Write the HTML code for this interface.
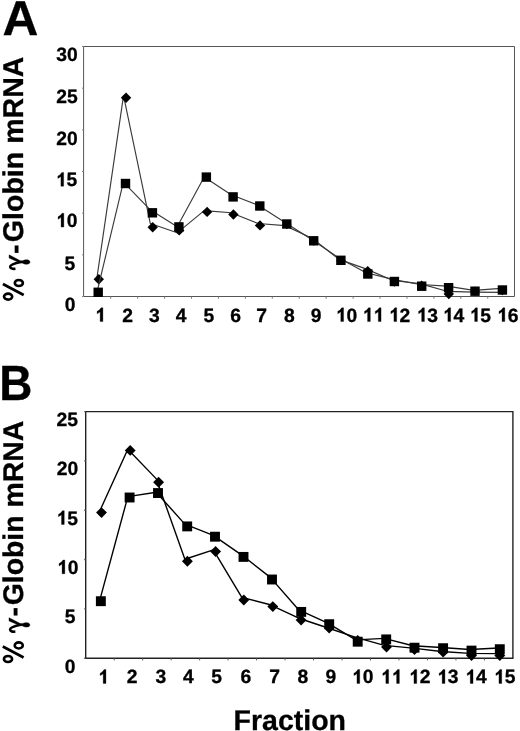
<!DOCTYPE html>
<html><head><meta charset="utf-8"><title>Globin mRNA fractions</title>
<style>
html,body{margin:0;padding:0;background:#fff;width:520px;height:731px;overflow:hidden}
svg{display:block;will-change:transform}
text{font-family:"Liberation Sans",sans-serif;font-weight:bold;fill:#000;stroke:#000;stroke-width:0.3px;text-rendering:geometricPrecision}
.g1{stroke:#000;stroke-width:0.3px}
</style></head><body>
<svg width="520" height="731" viewBox="0 0 520 731">
<rect width="520" height="731" fill="#fff"/>
<text transform="translate(2.6,35) scale(1.01,1)" font-size="49.2">A</text>
<g transform="translate(22.9,301) rotate(-90)">
<g fill="none" stroke="#000">
<ellipse cx="18" cy="-4.05" rx="3.05" ry="4.05" stroke-width="2.6"/>
<ellipse cx="4.4" cy="-14.8" rx="3" ry="4.1" stroke-width="2.6"/>
<path d="M16.9,-20L6,0.8" stroke-width="2.8"/>
</g>
<path stroke="#000" stroke-width="0.4" d="M42.91,-13.79L46.14,-13.79L40.28,-2.57L40.28,0C41.57,1.72 41.71,7.09 38.91,7.09C36.13,7.09 36.28,1.72 37.85,0L38.05,-2.57Z"/>
<path d="M32.21,-7.44C31.84,-10.87 32.84,-12.73 34.27,-12.73C35.99,-12.73 37.42,-9.15 38.99,-2.29" fill="none" stroke="#000" stroke-width="2.57"/>
<text x="47.13" y="0.6" font-size="28.6">-</text>
<text x="58.86" y="0" font-size="28.55">Globin mRNA</text>
</g>
<path d="M83.6,46.5H514.5V296.5H83.6Z" fill="none" stroke="#555" stroke-width="1"/>
<path d="M82.1,46.5H83.6" stroke="#777" stroke-width="1"/>
<path d="M82.1,88.17H83.6" stroke="#777" stroke-width="1"/>
<path d="M82.1,129.83H83.6" stroke="#777" stroke-width="1"/>
<path d="M82.1,171.5H83.6" stroke="#777" stroke-width="1"/>
<path d="M82.1,213.17H83.6" stroke="#777" stroke-width="1"/>
<path d="M82.1,254.83H83.6" stroke="#777" stroke-width="1"/>
<path d="M82.1,296.5H83.6" stroke="#777" stroke-width="1"/>
<path d="M110.73,296.5V298.7" stroke="#777" stroke-width="1"/>
<path d="M137.66,296.5V298.7" stroke="#777" stroke-width="1"/>
<path d="M164.59,296.5V298.7" stroke="#777" stroke-width="1"/>
<path d="M191.52,296.5V298.7" stroke="#777" stroke-width="1"/>
<path d="M218.45,296.5V298.7" stroke="#777" stroke-width="1"/>
<path d="M245.38,296.5V298.7" stroke="#777" stroke-width="1"/>
<path d="M272.31,296.5V298.7" stroke="#777" stroke-width="1"/>
<path d="M299.24,296.5V298.7" stroke="#777" stroke-width="1"/>
<path d="M326.17,296.5V298.7" stroke="#777" stroke-width="1"/>
<path d="M353.1,296.5V298.7" stroke="#777" stroke-width="1"/>
<path d="M380.03,296.5V298.7" stroke="#777" stroke-width="1"/>
<path d="M406.96,296.5V298.7" stroke="#777" stroke-width="1"/>
<path d="M433.89,296.5V298.7" stroke="#777" stroke-width="1"/>
<path d="M460.82,296.5V298.7" stroke="#777" stroke-width="1"/>
<path d="M487.75,296.5V298.7" stroke="#777" stroke-width="1"/>
<text x="56.23" y="60.8" font-size="19.3">3</text>
<text x="66.96" y="60.8" font-size="19.3">0</text>
<text x="56.24" y="102.7" font-size="19.3">2</text>
<text x="66.97" y="102.7" font-size="19.3">5</text>
<text x="56.23" y="144.6" font-size="19.3">2</text>
<text x="66.96" y="144.6" font-size="19.3">0</text>
<path class="g1" d="M63.66,172.38L63.66,186.2L60.9,186.2L60.9,176.45Q59.51,177.71 57.87,178.38L57.87,175.97Q60.38,175.01 61.82,172.38Z"/>
<text x="66.57" y="186.2" font-size="19.3">5</text>
<path class="g1" d="M63.84,213.28L63.84,227.1L61.08,227.1L61.08,217.35Q59.69,218.61 58.05,219.28L58.05,216.87Q60.56,215.91 62.01,213.28Z"/>
<text x="66.76" y="227.1" font-size="19.3">0</text>
<text x="64.47" y="269.6" font-size="19.3">5</text>
<text x="64.86" y="311.3" font-size="19.3">0</text>
<path class="g1" d="M102.9,307.78L102.9,321.6L100.14,321.6L100.14,311.85Q98.75,313.11 97.11,313.78L97.11,311.37Q99.61,310.41 101.06,307.78Z"/>
<text x="122.19" y="321.6" font-size="19.3">2</text>
<text x="149.09" y="321.6" font-size="19.3">3</text>
<text x="175.7" y="321.6" font-size="19.3">4</text>
<text x="203.4" y="321.6" font-size="19.3">5</text>
<text x="230.2" y="321.6" font-size="19.3">6</text>
<text x="256.29" y="321.6" font-size="19.3">7</text>
<text x="284.1" y="321.6" font-size="19.3">8</text>
<text x="310.8" y="321.6" font-size="19.3">9</text>
<path class="g1" d="M343.57,307.78L343.57,321.6L340.81,321.6L340.81,311.85Q339.42,313.11 337.78,313.78L337.78,311.37Q340.29,310.41 341.73,307.78Z"/>
<text x="346.48" y="321.6" font-size="19.3">0</text>
<path class="g1" d="M370.33,307.78L370.33,321.6L367.57,321.6L367.57,311.85Q366.18,313.11 364.54,313.78L364.54,311.37Q367.05,310.41 368.5,307.78Z"/>
<path class="g1" d="M381.06,307.78L381.06,321.6L378.3,321.6L378.3,311.85Q376.91,313.11 375.27,313.78L375.27,311.37Q377.78,310.41 379.23,307.78Z"/>
<path class="g1" d="M396.67,307.78L396.67,321.6L393.91,321.6L393.91,311.85Q392.52,313.11 390.88,313.78L390.88,311.37Q393.39,310.41 394.84,307.78Z"/>
<text x="399.58" y="321.6" font-size="19.3">2</text>
<path class="g1" d="M424.42,307.78L424.42,321.6L421.66,321.6L421.66,311.85Q420.27,313.11 418.63,313.78L418.63,311.37Q421.14,310.41 422.59,307.78Z"/>
<text x="427.33" y="321.6" font-size="19.3">3</text>
<path class="g1" d="M450.63,307.78L450.63,321.6L447.87,321.6L447.87,311.85Q446.48,313.11 444.84,313.78L444.84,311.37Q447.35,310.41 448.8,307.78Z"/>
<text x="453.54" y="321.6" font-size="19.3">4</text>
<path class="g1" d="M477.42,307.78L477.42,321.6L474.66,321.6L474.66,311.85Q473.27,313.11 471.63,313.78L471.63,311.37Q474.14,310.41 475.59,307.78Z"/>
<text x="480.34" y="321.6" font-size="19.3">5</text>
<path class="g1" d="M504.82,307.78L504.82,321.6L502.06,321.6L502.06,311.85Q500.67,313.11 499.03,313.78L499.03,311.37Q501.54,310.41 502.99,307.78Z"/>
<text x="507.73" y="321.6" font-size="19.3">6</text>
<path d="M96.37,281.65 L123.53,95.55 L150.31,223.58 L177.2,232.82 L204.19,210.62 L231.15,212.73 L258.13,223.49 L285.09,225.64 L312.06,238.22 L339.03,259.38 L366,268.87 L392.97,280.45 L419.94,283.58 L446.91,291.32 L473.88,292.09 L500.85,292.44" fill="none" stroke="#3a3a3a" stroke-width="1.15" stroke-linejoin="round"/>
<path d="M98.8,274L104,279.2L98.8,284.4L93.6,279.2Z"/>
<path d="M126.05,92.5L131.25,97.7L126.05,102.9L120.85,97.7Z"/>
<path d="M152.7,222L157.9,227.2L152.7,232.4L147.5,227.2Z"/>
<path d="M179.2,225.2L184.4,230.4L179.2,235.6L174,230.4Z"/>
<path d="M207.1,206.7L212.3,211.9L207.1,217.1L201.9,211.9Z"/>
<path d="M233.4,209.3L238.6,214.5L233.4,219.7L228.2,214.5Z"/>
<path d="M260,220.2L265.2,225.4L260,230.6L254.8,225.4Z"/>
<path d="M286.8,219.8L291.5,224.5L286.8,229.2L282.1,224.5Z"/>
<path d="M313.7,236.3L318.4,241L313.7,245.7L309,241Z"/>
<path d="M340.9,255.8L345.6,260.5L340.9,265.2L336.2,260.5Z"/>
<path d="M367.7,265.9L372.9,271.1L367.7,276.3L362.5,271.1Z"/>
<path d="M394.4,277.3L399.1,282L394.4,286.7L389.7,282Z"/>
<path d="M421.7,280.6L426.4,285.3L421.7,290L417,285.3Z"/>
<path d="M448.8,288.8L454,294L448.8,299.2L443.6,294Z"/>
<path d="M475,286.5L479.7,291.2L475,295.9L470.3,291.2Z"/>
<path d="M502.4,285.7L507.2,290.5L502.4,295.3L497.6,290.5Z"/>
<path d="M96.34,294.99 L123.38,182.04 L150.24,209.85 L177.23,226.83 L204.22,176.95 L231.16,194.68 L258.12,205.27 L285.09,222.45 L312.06,239.78 L339.03,258.03 L366,272.71 L392.97,279.39 L419.94,284.5 L446.91,286.08 L473.88,290.35 L500.85,288.36" fill="none" stroke="#3a3a3a" stroke-width="1.15" stroke-linejoin="round"/>
<rect x="93.5" y="287.6" width="9.4" height="9.4"/>
<rect x="120.8" y="178.8" width="9.4" height="9.4"/>
<rect x="147.7" y="208.1" width="9.4" height="9.4"/>
<rect x="174.2" y="222.2" width="9.4" height="9.4"/>
<rect x="201.65" y="172.4" width="9.4" height="9.4"/>
<rect x="228.4" y="192.2" width="9.4" height="9.4"/>
<rect x="255.1" y="201.3" width="9.4" height="9.4"/>
<rect x="282.1" y="219.3" width="9.4" height="9.4"/>
<rect x="309" y="236.1" width="9.4" height="9.4"/>
<rect x="336.2" y="255.6" width="9.4" height="9.4"/>
<rect x="363.1" y="269.3" width="9.4" height="9.4"/>
<rect x="389.7" y="276.8" width="9.4" height="9.4"/>
<rect x="417" y="281.5" width="9.4" height="9.4"/>
<rect x="443.9" y="283" width="9.4" height="9.4"/>
<rect x="470.3" y="286.5" width="9.4" height="9.4"/>
<rect x="497.7" y="285.3" width="9.4" height="9.4"/>
<text transform="translate(-0.75,399.55) scale(0.93,1)" font-size="49.4">B</text>
<g transform="translate(22.8,663.4) rotate(-90)">
<g fill="none" stroke="#000">
<ellipse cx="18" cy="-4.05" rx="3.05" ry="4.05" stroke-width="2.6"/>
<ellipse cx="4.4" cy="-14.8" rx="3" ry="4.1" stroke-width="2.6"/>
<path d="M16.9,-20L6,0.8" stroke-width="2.8"/>
</g>
<path stroke="#000" stroke-width="0.4" d="M42.51,-13.79L45.74,-13.79L39.88,-2.57L39.88,0C41.17,1.72 41.31,7.09 38.51,7.09C35.73,7.09 35.88,1.72 37.45,0L37.65,-2.57Z"/>
<path d="M31.81,-7.44C31.44,-10.87 32.44,-12.73 33.87,-12.73C35.59,-12.73 37.02,-9.15 38.59,-2.29" fill="none" stroke="#000" stroke-width="2.57"/>
<text x="46.83" y="0.6" font-size="28.6">-</text>
<text x="58.06" y="0" font-size="28.41">Globin mRNA</text>
</g>
<path d="M85.7,411.6H512.9V658.2H85.7Z" fill="none" stroke="#222" stroke-width="1.4"/>
<path d="M84.2,411.6H85.7" stroke="#555" stroke-width="1.4"/>
<path d="M84.2,460.92H85.7" stroke="#555" stroke-width="1.4"/>
<path d="M84.2,510.24H85.7" stroke="#555" stroke-width="1.4"/>
<path d="M84.2,559.56H85.7" stroke="#555" stroke-width="1.4"/>
<path d="M84.2,608.88H85.7" stroke="#555" stroke-width="1.4"/>
<path d="M84.2,658.2H85.7" stroke="#555" stroke-width="1.4"/>
<path d="M114.18,658.2V660.4" stroke="#555" stroke-width="1"/>
<path d="M142.66,658.2V660.4" stroke="#555" stroke-width="1"/>
<path d="M171.14,658.2V660.4" stroke="#555" stroke-width="1"/>
<path d="M199.62,658.2V660.4" stroke="#555" stroke-width="1"/>
<path d="M228.1,658.2V660.4" stroke="#555" stroke-width="1"/>
<path d="M256.58,658.2V660.4" stroke="#555" stroke-width="1"/>
<path d="M285.06,658.2V660.4" stroke="#555" stroke-width="1"/>
<path d="M313.54,658.2V660.4" stroke="#555" stroke-width="1"/>
<path d="M342.02,658.2V660.4" stroke="#555" stroke-width="1"/>
<path d="M370.5,658.2V660.4" stroke="#555" stroke-width="1"/>
<path d="M398.98,658.2V660.4" stroke="#555" stroke-width="1"/>
<path d="M427.46,658.2V660.4" stroke="#555" stroke-width="1"/>
<path d="M455.94,658.2V660.4" stroke="#555" stroke-width="1"/>
<path d="M484.42,658.2V660.4" stroke="#555" stroke-width="1"/>
<text x="56.54" y="426" font-size="19.3">2</text>
<text x="67.27" y="426" font-size="19.3">5</text>
<text x="56.83" y="475.3" font-size="19.3">2</text>
<text x="67.56" y="475.3" font-size="19.3">0</text>
<path class="g1" d="M64.26,510.68L64.26,524.5L61.5,524.5L61.5,514.75Q60.11,516.01 58.47,516.68L58.47,514.27Q60.98,513.31 62.42,510.68Z"/>
<text x="67.17" y="524.5" font-size="19.3">5</text>
<path class="g1" d="M64.84,559.98L64.84,573.8L62.08,573.8L62.08,564.05Q60.69,565.31 59.05,565.98L59.05,563.57Q61.56,562.61 63.01,559.98Z"/>
<text x="67.76" y="573.8" font-size="19.3">0</text>
<text x="64.67" y="623.2" font-size="19.3">5</text>
<text x="64.86" y="672.8" font-size="19.3">0</text>
<path class="g1" d="M105.95,669.58L105.95,683.4L103.19,683.4L103.19,673.65Q101.8,674.91 100.16,675.58L100.16,673.17Q102.66,672.21 104.11,669.58Z"/>
<text x="126.84" y="683.4" font-size="19.3">2</text>
<text x="155.49" y="683.4" font-size="19.3">3</text>
<text x="183.05" y="683.4" font-size="19.3">4</text>
<text x="211.15" y="683.4" font-size="19.3">5</text>
<text x="240.5" y="683.4" font-size="19.3">6</text>
<text x="269.24" y="683.4" font-size="19.3">7</text>
<text x="297.6" y="683.4" font-size="19.3">8</text>
<text x="325.55" y="683.4" font-size="19.3">9</text>
<path class="g1" d="M359.72,669.58L359.72,683.4L356.96,683.4L356.96,673.65Q355.57,674.91 353.93,675.58L353.93,673.17Q356.44,672.21 357.88,669.58Z"/>
<text x="362.63" y="683.4" font-size="19.3">0</text>
<path class="g1" d="M388.63,669.58L388.63,683.4L385.87,683.4L385.87,673.65Q384.48,674.91 382.84,675.58L382.84,673.17Q385.35,672.21 386.8,669.58Z"/>
<path class="g1" d="M399.36,669.58L399.36,683.4L396.6,683.4L396.6,673.65Q395.21,674.91 393.57,675.58L393.57,673.17Q396.08,672.21 397.53,669.58Z"/>
<path class="g1" d="M416.72,669.58L416.72,683.4L413.96,683.4L413.96,673.65Q412.57,674.91 410.93,675.58L410.93,673.17Q413.44,672.21 414.89,669.58Z"/>
<text x="419.63" y="683.4" font-size="19.3">2</text>
<path class="g1" d="M444.92,669.58L444.92,683.4L442.16,683.4L442.16,673.65Q440.77,674.91 439.13,675.58L439.13,673.17Q441.64,672.21 443.09,669.58Z"/>
<text x="447.83" y="683.4" font-size="19.3">3</text>
<path class="g1" d="M473.03,669.58L473.03,683.4L470.27,683.4L470.27,673.65Q468.88,674.91 467.24,675.58L467.24,673.17Q469.75,672.21 471.2,669.58Z"/>
<text x="475.94" y="683.4" font-size="19.3">4</text>
<path class="g1" d="M501.72,669.58L501.72,683.4L498.96,683.4L498.96,673.65Q497.57,674.91 495.93,675.58L495.93,673.17Q498.44,672.21 499.89,669.58Z"/>
<text x="504.64" y="683.4" font-size="19.3">5</text>
<path d="M99.3,512.05 L127.82,449.17 L156.34,478.89 L184.88,559.25 L213.34,549.85 L241.82,597.41 L270.3,604.77 L298.8,618.24 L327.3,627.77 L355.8,637.38 L384.3,645.41 L412.8,648.12 L441.3,651.49 L469.8,653.34 L498.3,653.61" fill="none" stroke="#000" stroke-width="1.4" stroke-linejoin="round"/>
<path d="M101.5,507.15L106.95,512.6L101.5,518.05L96.05,512.6Z"/>
<path d="M130.2,444.95L135.65,450.4L130.2,455.85L124.75,450.4Z"/>
<path d="M158.6,476.75L164.05,482.2L158.6,487.65L153.15,482.2Z"/>
<path d="M187.4,555.75L192.85,561.2L187.4,566.65L181.95,561.2Z"/>
<path d="M215.6,546.05L221.05,551.5L215.6,556.95L210.15,551.5Z"/>
<path d="M243.8,594.55L249.25,600L243.8,605.45L238.35,600Z"/>
<path d="M272.8,601.15L278.25,606.6L272.8,612.05L267.35,606.6Z"/>
<path d="M301.1,614.65L306.55,620.1L301.1,625.55L295.65,620.1Z"/>
<path d="M329.2,623.4L334.2,628.4L329.2,633.4L324.2,628.4Z"/>
<path d="M357.7,635L362.7,640L357.7,645L352.7,640Z"/>
<path d="M386.5,641.55L391.95,647L386.5,652.45L381.05,647Z"/>
<path d="M414.5,645L419.5,650L414.5,655L409.5,650Z"/>
<path d="M443.1,647.5L448.1,652.5L443.1,657.5L438.1,652.5Z"/>
<path d="M471.5,650.05L476.95,655.5L471.5,660.95L466.05,655.5Z"/>
<path d="M499.8,650.05L505.25,655.5L499.8,660.95L494.35,655.5Z"/>
<path d="M99.32,601.84 L127.84,496.6 L156.3,492.26 L184.82,524.14 L213.3,535.37 L241.8,555.06 L270.3,577.39 L298.81,609.94 L327.3,622.9 L355.81,639.85 L384.3,638.37 L412.8,645.75 L441.3,647.52 L469.8,649.49 L498.3,648.01" fill="none" stroke="#000" stroke-width="1.4" stroke-linejoin="round"/>
<rect x="95.9" y="596.25" width="9.9" height="9.9"/>
<rect x="124.65" y="492.55" width="9.9" height="9.9"/>
<rect x="153.05" y="488.1" width="9.9" height="9.9"/>
<rect x="182.25" y="521.45" width="9.9" height="9.9"/>
<rect x="210.05" y="531.75" width="9.9" height="9.9"/>
<rect x="238.55" y="551.95" width="9.9" height="9.9"/>
<rect x="267.05" y="574.55" width="9.9" height="9.9"/>
<rect x="296.25" y="606.95" width="9.9" height="9.9"/>
<rect x="324.25" y="619.25" width="9.9" height="9.9"/>
<rect x="352.75" y="636.75" width="9.9" height="9.9"/>
<rect x="381.25" y="634.45" width="9.9" height="9.9"/>
<rect x="409.55" y="642.75" width="9.9" height="9.9"/>
<rect x="438.15" y="643.25" width="9.9" height="9.9"/>
<rect x="466.55" y="645.65" width="9.9" height="9.9"/>
<rect x="494.85" y="644.25" width="9.9" height="9.9"/>
<text x="233.6" y="729.5" font-size="28.5">Fraction</text>
</svg>
</body></html>
